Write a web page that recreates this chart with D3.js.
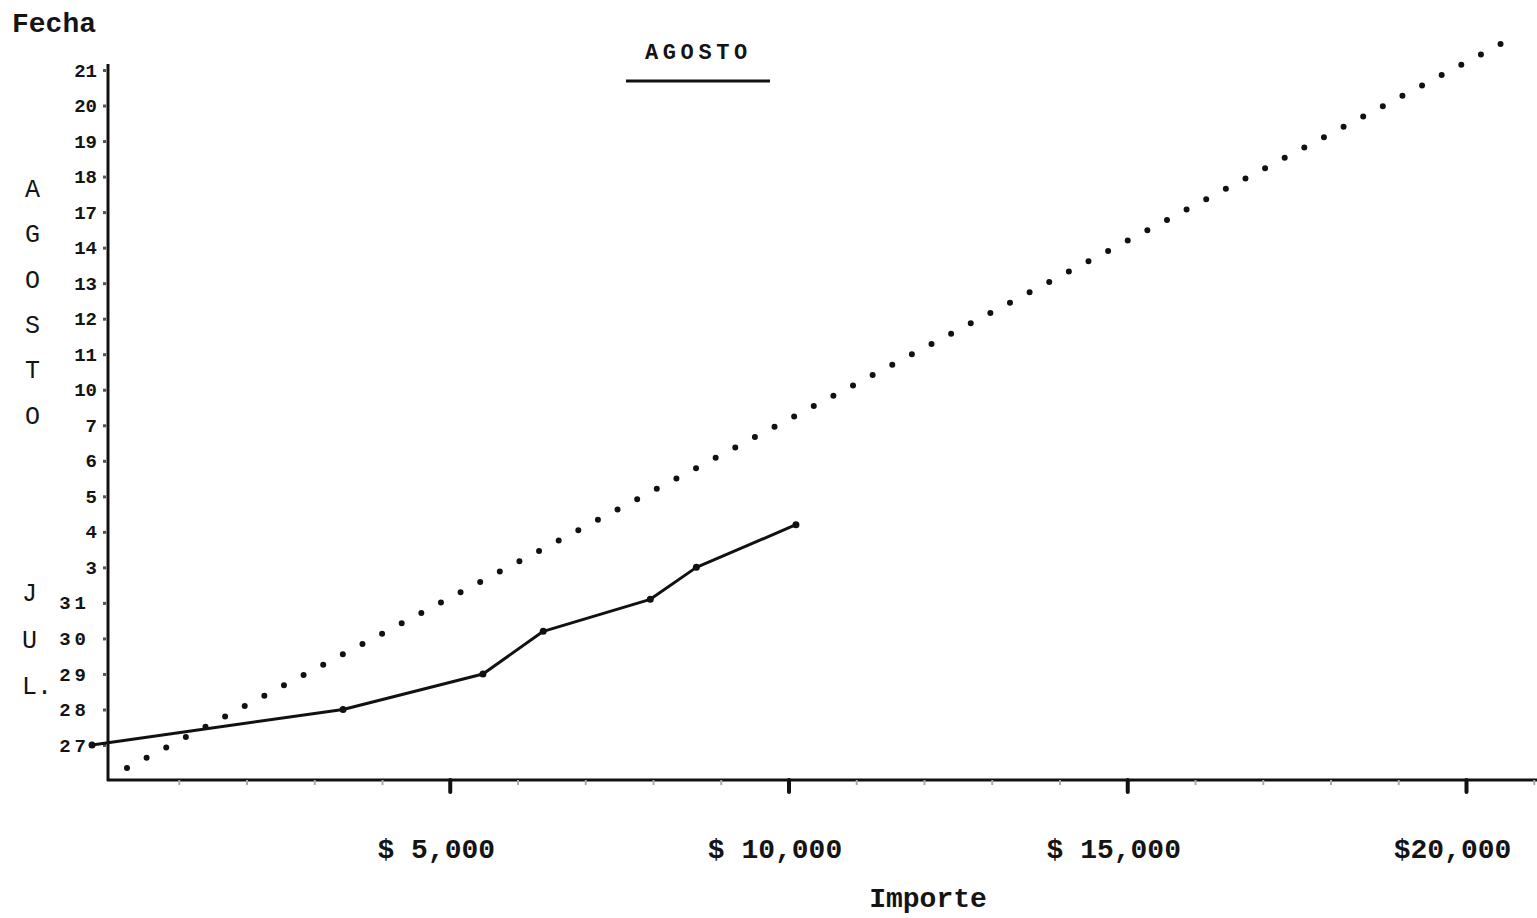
<!DOCTYPE html>
<html>
<head>
<meta charset="utf-8">
<script src="https://cdn.jsdelivr.net/npm/d3@7/dist/d3.min.js"></script>
<style>
    body { margin: 0; background: #fff; }
    svg { display: block; }
    text { font-family: "Liberation Mono", "DejaVu Sans Mono", monospace; font-weight: bold; fill: #141414; }
</style>
</head>
<body>
<svg id="chartSvg" width="1537" height="918"></svg>
<script>
// fechas del eje vertical (dias habiles, de abajo hacia arriba)
var date_labels = ["27", "28", "29", "30", "31", "3", "4", "5", "6", "7",
    "10", "11", "12", "13", "14", "17", "18", "19", "20", "21"];
var date_month = ["JUL", "JUL", "JUL", "JUL", "JUL", "AGO", "AGO", "AGO", "AGO", "AGO",
    "AGO", "AGO", "AGO", "AGO", "AGO", "AGO", "AGO", "AGO", "AGO", "AGO"];
var month_side_top = ["A", "G", "O", "S", "T", "O"];
var month_side_bottom = ["J", "U", "L."];

// importe en pesos
var x_major_ticks = [5000, 10000, 15000, 20000];
var x_major_labels = ["$ 5,000", "$ 10,000", "$ 15,000", "$20,000"];
var x_minor_ticks = [1000, 2000, 3000, 4000, 6000, 7000, 8000, 9000, 11000, 12000,
    13000, 14000, 16000, 17000, 18000, 19000, 21000];

// linea continua: importe real acumulado
var real_importe = [-280, 3425, 5490, 6380, 7960, 8640, 10110];
var real_fecha = [0, 1, 2, 3.2, 4.1, 5, 6.2];
// linea punteada: meta
var meta_importe = [236, 20510];
var meta_fecha = [-0.65, 19.73];

var legend_label = "AGOSTO";

var svg = d3.select("#chartSvg");
let svg_width = 1537, svg_height = 918;
let axis_x = 108, axis_y = 780;

let xScale = d3.scaleLinear().domain([0, 20000]).range([111, 1466]);
let yScale = d3.scaleLinear().domain([0, 19]).range([745, 70]);

// ejes
svg.append("line")
    .attr("x1", axis_x).attr("x2", axis_x)
    .attr("y1", 64).attr("y2", axis_y + 1)
    .attr("stroke", "#111").attr("stroke-width", 3);
svg.append("line")
    .attr("x1", axis_x - 1).attr("x2", svg_width)
    .attr("y1", axis_y).attr("y2", axis_y)
    .attr("stroke", "#111").attr("stroke-width", 3);

// eje y con fechas
let y_axis = d3.axisLeft(yScale)
    .tickValues(d3.range(date_labels.length))
    .tickFormat(function (d) { return date_labels[d]; })
    .tickSize(3).tickPadding(8);
let gy = svg.append("g")
    .attr("transform", "translate(" + (axis_x - 2) + ",0)")
    .call(y_axis);
gy.select(".domain").remove();
gy.selectAll(".tick line").attr("stroke", "#555").attr("stroke-width", 3);
gy.selectAll(".tick text")
    .attr("font-family", null)
    .style("font-size", "19px")
    .style("letter-spacing", function (d) { return date_month[d] == "JUL" ? "4px" : "0px"; })
    .attr("x", function (d) { return date_month[d] == "JUL" ? -16 : -9; });

// eje x, marcas mayores
let x_axis = d3.axisBottom(xScale)
    .tickValues(x_major_ticks)
    .tickFormat(function (d, i) { return x_major_labels[i]; })
    .tickSize(12);
let gx = svg.append("g")
    .attr("transform", "translate(0," + axis_y + ")")
    .call(x_axis);
gx.select(".domain").remove();
gx.selectAll(".tick line").attr("stroke", "#111").attr("stroke-width", 4).attr("stroke-linecap", "round");
gx.selectAll(".tick text")
    .attr("font-family", null)
    .style("font-size", "28px")
    .attr("y", 78).attr("dy", 0)
    .attr("x", -14);

// eje x, marcas menores
let x_minor = d3.axisBottom(xScale).tickValues(x_minor_ticks).tickFormat("").tickSize(5);
let gxm = svg.append("g")
    .attr("transform", "translate(0," + axis_y + ")")
    .call(x_minor);
gxm.select(".domain").remove();
gxm.selectAll(".tick line").attr("stroke", "#aaa").attr("stroke-width", 2);

// titulos
svg.append("text").attr("x", 12).attr("y", 32)
    .style("font-size", "28px").text("Fecha");
svg.append("text").attr("x", 928).attr("y", 907)
    .attr("text-anchor", "middle")
    .style("font-size", "28px").text("Importe");

svg.append("g").selectAll("text").data(month_side_top).enter()
    .append("text")
    .attr("x", 25)
    .attr("y", function (d, i) { return 197 + i * 45.3; })
    .style("font-size", "25px").style("font-weight", "normal")
    .text(function (d) { return d; });
svg.append("g").selectAll("text").data(month_side_bottom).enter()
    .append("text")
    .attr("x", 22)
    .attr("y", function (d, i) { return 601 + i * 46.5; })
    .style("font-size", "25px").style("font-weight", "normal")
    .text(function (d) { return d; });

// leyenda
svg.append("text").attr("x", 645).attr("y", 59)
    .style("font-size", "22px").style("letter-spacing", "4.6px")
    .text(legend_label);
svg.append("line")
    .attr("x1", 626).attr("x2", 770)
    .attr("y1", 81).attr("y2", 81)
    .attr("stroke", "#111").attr("stroke-width", 3);

// linea punteada (meta)
let meta_pts = meta_importe.map(function (d, i) { return [d, meta_fecha[i]]; });
let line = d3.line()
    .x(function (d) { return xScale(d[0]); })
    .y(function (d) { return yScale(d[1]); });
let meta_path = svg.append("path")
    .datum(meta_pts)
    .attr("d", line)
    .attr("fill", "none")
    .attr("stroke", "#111")
    .attr("stroke-width", 6)
    .attr("stroke-linecap", "round");
let meta_len = meta_path.node().getTotalLength();
meta_path.attr("stroke-dasharray", "0," + (meta_len / 70));

// linea continua (real)
let real_pts = real_importe.map(function (d, i) { return [d, real_fecha[i]]; });
svg.append("path")
    .datum(real_pts)
    .attr("d", line)
    .attr("fill", "none")
    .attr("stroke", "#111")
    .attr("stroke-width", 3)
    .attr("stroke-linejoin", "round");
svg.append("g").selectAll("circle").data(real_pts).enter()
    .append("circle")
    .attr("cx", function (d) { return xScale(d[0]); })
    .attr("cy", function (d) { return yScale(d[1]); })
    .attr("r", 3.5)
    .style("fill", "#111");
</script>
</body>
</html>
